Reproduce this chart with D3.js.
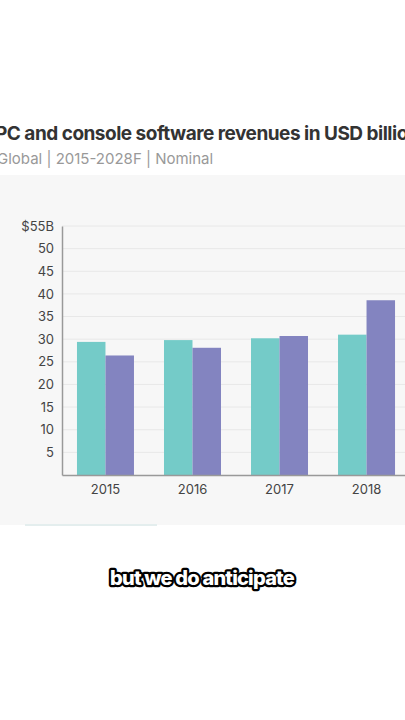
<!DOCTYPE html>
<html><head><meta charset="utf-8">
<script src="https://cdn.jsdelivr.net/npm/d3@7"></script>
<style>body{margin:0;background:#fff;overflow:hidden}svg{display:block}</style>
</head><body><svg id="c" width="405" height="720"></svg>
<script>
const years = ["2015","2016","2017","2018"];
const pcValues = [29.4, 29.8, 30.2, 31.0];
const consoleValues = [26.4, 28.1, 30.7, 38.6];
const yTicks = [5,10,15,20,25,30,35,40,45,50,55];
const title = "PC and console software revenues in USD billions";
const subtitle = "Global | 2015-2028F | Nominal";
const caption = "but we do anticipate";

const svg = d3.select("#c");
const font = "Inter, 'Noto Sans', sans-serif";
svg.append("rect").attr("x",0).attr("y",175).attr("width",405).attr("height",350).attr("fill","#f7f7f7");
svg.append("rect").attr("x",25).attr("y",524).attr("width",132).attr("height",2).attr("fill","#e4eeee");
svg.append("text").attr("x",-5).attr("y",140).text(title).attr("font-family",font).attr("font-weight",700).attr("font-size",19).attr("fill","#333").attr("letter-spacing",-0.5);
svg.append("text").attr("x",-3).attr("y",164).text(subtitle).attr("font-family",font).attr("font-size",15).attr("fill","#999");

const y = d3.scaleLinear().domain([0,55]).range([475,226]);
const x = d3.scaleBand().domain(years).range([62,410]).paddingInner(0.345).paddingOuter(0.172);
const x1 = d3.scaleBand().domain([0,1]).range([0,x.bandwidth()]);

const g = svg.append("g");
g.selectAll(".grid").data(yTicks).join("line").attr("x1",62).attr("x2",405)
 .attr("y1",d=>y(d)).attr("y2",d=>y(d)).attr("stroke","#e8e8e8").attr("stroke-width",1);

const series=[pcValues,consoleValues], colors=["#74cbc8","#8384c0"];
series.forEach((vals,i)=>{
  g.selectAll(".b"+i).data(years).join("rect").attr("x",d=>x(d)+x1(i)).attr("width",x1.bandwidth())
   .attr("y",(d,j)=>y(vals[j])).attr("height",(d,j)=>y(0)-y(vals[j])).attr("fill",colors[i]);
});

const ya = svg.append("g").attr("transform","translate(62,0)")
 .call(d3.axisLeft(y).tickValues(yTicks).tickSize(0).tickPadding(8).tickFormat(d=>d===55?"$55B":d));
ya.select(".domain").attr("stroke","#999").attr("stroke-width",1.5);
ya.selectAll("text").attr("font-family",font).attr("font-size",13).attr("fill","#444");
const xa = svg.append("g").attr("transform","translate(0,475)")
 .call(d3.axisBottom(x).tickSize(0).tickPadding(10));
xa.select(".domain").attr("stroke","#999").attr("stroke-width",1.5);
xa.selectAll("text").attr("font-family",font).attr("font-size",13).attr("fill","#444");

svg.append("text").attr("x",202).attr("y",585).attr("text-anchor","middle").text(caption)
 .attr("font-family",font).attr("font-weight",800).attr("font-size",20).attr("letter-spacing",-0.8)
 .attr("fill","#fff").attr("stroke","#000").attr("stroke-width",4.5).attr("paint-order","stroke").attr("stroke-linejoin","round");
</script></body></html>
